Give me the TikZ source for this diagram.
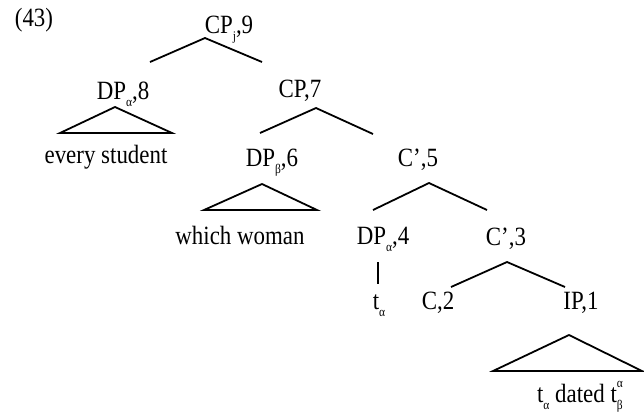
\documentclass[tikz,border=0pt]{standalone}
\usepackage{fontspec}
\setmainfont{Liberation Serif}
\newcommand{\lsub}[1]{\raisebox{-0.3em}{\fontsize{11.5}{12}\selectfont #1}}
\newcommand{\lsup}[1]{\raisebox{0.55em}{\fontsize{11.5}{12}\selectfont #1}}
\newcommand{\tallt}[1]{\scalebox{1}[1.15]{#1}}
\begin{document}
\begin{tikzpicture}[x=1bp,y=-1bp,
  lab/.style={anchor=base,inner sep=0pt,font=\fontsize{23}{26}\selectfont},
  br/.style={line width=1.8pt,line join=miter}]
\useasboundingbox (0,0) rectangle (644,414);
% labels
\node[lab] (ex) at (34,26) {\tallt{(43)}};
\node[lab] (cp9) at (229,33) {\tallt{CP\lsub{j},9}};
\node[lab] (dp8) at (123,99) {\tallt{DP\lsub{α},8}};
\node[lab] (cp7) at (300,97) {\tallt{CP,7}};
\node[lab] (es) at (106,163) {\tallt{every student}};
\node[lab] (dp6) at (272,166) {\tallt{DP\lsub{β},6}};
\node[lab] (c5) at (418,166) {\tallt{C’,5}};
\node[lab] (ww) at (240,244) {\tallt{which woman}};
\node[lab] (dp4) at (383,244) {\tallt{DP\lsub{α},4}};
\node[lab] (c3) at (506,245) {\tallt{C’,3}};
\node[lab] (ta) at (379,309) {\tallt{t\lsub{α}}};
\node[lab] (c2) at (438,309) {\tallt{C,2}};
\node[lab] (ip1) at (581,309) {\tallt{IP,1}};
\node[lab] (td) at (580,402) {\tallt{t\lsub{α} dated t\rlap{\lsub{β}}\lsup{α}}};
% branch points
\coordinate (a9) at (205,38);  \coordinate (l9) at (150,62);  \coordinate (r9) at (262,62);
\coordinate (a8) at (115,107); \coordinate (l8) at (60,133);  \coordinate (r8) at (172,133);
\coordinate (a7) at (316,108); \coordinate (l7) at (260,133); \coordinate (r7) at (373,134);
\coordinate (a6) at (262,184); \coordinate (l6) at (204,210); \coordinate (r6) at (317,210);
\coordinate (a5) at (429,183); \coordinate (l5) at (373,210); \coordinate (r5) at (487,210);
\coordinate (a4) at (378,262); \coordinate (b4) at (378,284);
\coordinate (a3) at (507,262); \coordinate (l3) at (451,287); \coordinate (r3) at (565,287);
\coordinate (a1) at (569,335); \coordinate (l1) at (493,371); \coordinate (r1) at (642,371);
% branches
\draw[br] (l9) -- (a9) -- (r9);
\draw[br] (l8) -- (a8) -- (r8) -- cycle;
\draw[br] (l7) -- (a7) -- (r7);
\draw[br] (l6) -- (a6) -- (r6) -- cycle;
\draw[br] (l5) -- (a5) -- (r5);
\draw[br] (a4) -- (b4);
\draw[br] (l3) -- (a3) -- (r3);
\draw[br] (l1) -- (a1) -- (r1) -- cycle;
\end{tikzpicture}
\end{document}
